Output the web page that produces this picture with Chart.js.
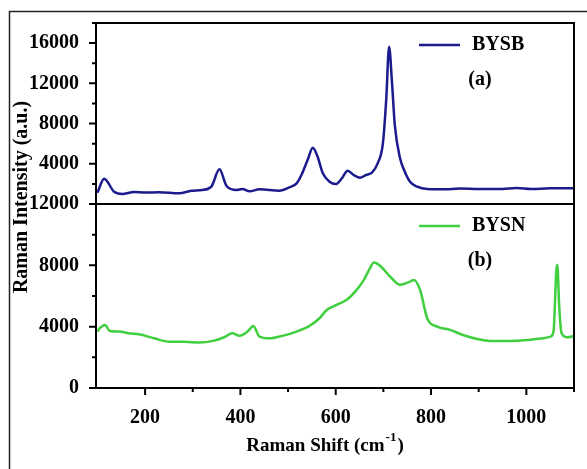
<!DOCTYPE html>
<html>
<head>
<meta charset="utf-8">
<script src="https://cdn.jsdelivr.net/npm/chart.js@4.4.1/dist/chart.umd.min.js"></script>
<style>
  html, body { margin: 0; padding: 0; background: #fff; }
  #wrap { width: 587px; height: 469px; }
</style>
</head>
<body>
<div id="wrap"><canvas id="raman" width="587" height="469"></canvas></div>
<script>
// BYSB spectrum (top panel)
const bysbShift = [100, 114, 135, 152, 177, 200, 229, 272, 297, 320, 339, 356, 371, 392, 404, 419,
  440, 482, 503, 518, 528, 541, 552, 562, 573, 587, 600, 613, 625, 638, 651, 663, 676, 688, 699,
  706, 712, 718, 724, 735, 745, 756, 771, 792, 830, 860, 900, 950, 980, 1010, 1050, 1100];
const bysbIntensity = [1120, 2520, 1220, 1000, 1190, 1140, 1160, 1060, 1320, 1390, 1720, 3450, 1790, 1390, 1490, 1260,
  1460, 1320, 1660, 2050, 2880, 4380, 5600, 4700, 3050, 2210, 1980, 2560, 3310, 2880, 2610, 2880, 3110, 4040, 6030,
  10400, 15640, 12150, 7850, 4540, 3210, 2210, 1720, 1490, 1460, 1540, 1480, 1500, 1580, 1480, 1560, 1560];

// BYSN spectrum (bottom panel)
const bysnShift = [100, 105, 116, 126, 145, 166, 187, 219, 251, 282, 314, 345, 366, 383, 398, 415, 427,
  440, 461, 488, 518, 545, 566, 581, 602, 623, 644, 659, 672, 680, 693, 714, 735, 756, 764, 777,
  792, 813, 840, 867, 897, 924, 966, 1002, 1036, 1051, 1057, 1063, 1065, 1069, 1074, 1086, 1100];
const bysnIntensity = [3680, 3900, 4110, 3720, 3680, 3570, 3500, 3240, 3020, 3020, 2960, 3090, 3310, 3570, 3400, 3680, 4050,
  3350, 3240, 3400, 3680, 4050, 4550, 5090, 5420, 5750, 6400, 7050, 7820, 8180, 7970, 7270, 6730, 6940, 7050, 6400,
  4550, 4000, 3790, 3460, 3200, 3070, 3070, 3130, 3240, 3350, 3680, 7700, 8030, 5310, 3570, 3310, 3400];

const seriesLabels = ['BYSB', 'BYSN'];
const panelTags = ['(a)', '(b)'];

// axis ticks
const xTicks = [200, 300, 400, 500, 600, 700, 800, 900, 1000, 1100];
const xTickLabels = [200, 400, 600, 800, 1000];
const yTopTicks = [0, 2000, 4000, 6000, 8000, 10000, 12000, 14000, 16000, 18000];
const yTopTickLabels = [4000, 8000, 12000, 16000];
const yBottomTicks = [0, 2000, 4000, 6000, 8000, 10000, 12000];
const yBottomTickLabels = [0, 4000, 8000, 12000];

const SERIF = '"Liberation Serif", "Times New Roman", serif';

const toPoints = (xs, ys) => xs.map((x, i) => ({ x: x, y: ys[i] }));

function setTicks(values) {
  return function (scale) { scale.ticks = values.map(v => ({ value: v })); };
}

const framePlugin = {
  id: 'frame',
  beforeDraw(chart) {
    const ctx = chart.ctx;
    ctx.save();
    ctx.fillStyle = '#fff';
    ctx.fillRect(0, 0, chart.width, chart.height);
    ctx.restore();
  },
  afterDraw(chart) {
    const ctx = chart.ctx;
    const a = chart.chartArea;
    const s = chart.scales;
    ctx.save();

    // outer picture border
    ctx.strokeStyle = '#222';
    ctx.lineWidth = 1.5;
    ctx.beginPath();
    ctx.moveTo(9.5, chart.height);
    ctx.lineTo(9.5, 11.5);
    ctx.lineTo(chart.width, 11.5);
    ctx.stroke();

    // plot frame and divider
    ctx.strokeStyle = '#000';
    ctx.lineWidth = 2;
    ctx.strokeRect(a.left, a.top, a.right - a.left, a.bottom - a.top);
    ctx.beginPath();
    ctx.moveTo(a.left, s.yTop.bottom);
    ctx.lineTo(a.right, s.yTop.bottom);
    ctx.stroke();

    // tick marks
    ctx.lineWidth = 2;
    ctx.beginPath();
    xTicks.forEach(v => {
      const px = s.x.getPixelForValue(v);
      const len = xTickLabels.includes(v) ? 7 : 4;
      ctx.moveTo(px, a.bottom);
      ctx.lineTo(px, a.bottom + len);
    });
    [[s.yTop, yTopTickLabels], [s.yBottom, yBottomTickLabels]].forEach(([sc, labels]) => {
      sc.ticks.forEach(t => {
        const py = sc.getPixelForValue(t.value);
        const len = labels.includes(t.value) ? 7 : 4;
        ctx.moveTo(a.left, py);
        ctx.lineTo(a.left - len, py);
      });
    });
    ctx.stroke();

    // legends and panel tags
    ctx.font = 'bold 20px ' + SERIF;
    ctx.fillStyle = '#000';
    ctx.textBaseline = 'middle';
    [s.yTop, s.yBottom].forEach((sc, i) => {
      const ds = chart.data.datasets[i];
      const ly = sc.top + 22;
      ctx.strokeStyle = ds.borderColor;
      ctx.lineWidth = 2.5;
      ctx.beginPath();
      ctx.moveTo(a.right - 155, ly);
      ctx.lineTo(a.right - 114, ly);
      ctx.stroke();
      ctx.textAlign = 'left';
      ctx.fillText(seriesLabels[i], a.right - 102, ly);
      ctx.textAlign = 'center';
      ctx.fillText(panelTags[i], a.right - 94, sc.top + 57);
    });

    // axis titles
    ctx.fillStyle = '#000';
    ctx.save();
    ctx.translate(22, 197);
    ctx.rotate(-Math.PI / 2);
    ctx.textAlign = 'center';
    ctx.font = 'bold 20px ' + SERIF;
    ctx.fillText('Raman Intensity (a.u.)', 0, 0);
    ctx.restore();

    const main = 'Raman Shift (cm';
    const sup = '-1';
    const tail = ')';
    ctx.font = 'bold 19px ' + SERIF;
    const wMain = ctx.measureText(main).width;
    const wTail = ctx.measureText(tail).width;
    ctx.font = 'bold 13px ' + SERIF;
    const wSup = ctx.measureText(sup).width;
    const cx = (a.left + a.right) / 2 - 11;
    let x0 = cx - (wMain + wSup + wTail) / 2;
    const ty = 446;
    ctx.textAlign = 'left';
    ctx.textBaseline = 'middle';
    ctx.font = 'bold 19px ' + SERIF;
    ctx.fillText(main, x0, ty);
    ctx.font = 'bold 13px ' + SERIF;
    ctx.fillText(sup, x0 + wMain + 1, ty - 8);
    ctx.font = 'bold 19px ' + SERIF;
    ctx.fillText(tail, x0 + wMain + wSup + 2, ty);
    ctx.restore();
  }
};

const tickFont = { family: SERIF, size: 20, weight: 'bold' };

new Chart(document.getElementById('raman'), {
  type: 'line',
  data: {
    datasets: [
      {
        label: seriesLabels[0],
        data: toPoints(bysbShift, bysbIntensity),
        yAxisID: 'yTop',
        borderColor: '#1b1b8e',
        borderWidth: 2.5,
        pointRadius: 0,
        cubicInterpolationMode: 'monotone'
      },
      {
        label: seriesLabels[1],
        data: toPoints(bysnShift, bysnIntensity),
        yAxisID: 'yBottom',
        borderColor: '#3fcf3f',
        borderWidth: 2.5,
        pointRadius: 0,
        cubicInterpolationMode: 'monotone'
      }
    ]
  },
  options: {
    responsive: false,
    animation: false,
    devicePixelRatio: 1,
    layout: { padding: { top: 23, right: 13, left: 0, bottom: 0 } },
    plugins: { legend: { display: false }, tooltip: { enabled: false } },
    scales: {
      x: {
        type: 'linear',
        min: 97,
        max: 1100,
        afterBuildTicks: setTicks(xTicks),
        afterFit(scale) { scale.height = 81; },
        grid: { display: false },
        border: { display: false },
        ticks: {
          autoSkip: false,
          maxRotation: 0,
          padding: 10,
          color: '#000',
          font: tickFont,
          callback: v => xTickLabels.includes(v) ? String(v) : ''
        }
      },
      yBottom: {
        type: 'linear',
        position: 'left',
        stack: 'panels',
        stackWeight: 184,
        min: 0,
        max: 12000,
        afterBuildTicks: setTicks(yBottomTicks),
        afterFit(scale) { scale.width = 96; },
        grid: { display: false },
        border: { display: false },
        ticks: {
          autoSkip: false,
          padding: 9,
          color: '#000',
          font: tickFont,
          callback: v => yBottomTickLabels.includes(v) ? String(v) : ''
        }
      },
      yTop: {
        type: 'linear',
        position: 'left',
        stack: 'panels',
        stackWeight: 181,
        min: 0,
        max: 18000,
        afterBuildTicks: setTicks(yTopTicks),
        afterFit(scale) { scale.width = 96; },
        grid: { display: false },
        border: { display: false },
        ticks: {
          autoSkip: false,
          padding: 9,
          color: '#000',
          font: tickFont,
          callback: v => yTopTickLabels.includes(v) ? String(v) : ''
        }
      }
    }
  },
  plugins: [framePlugin]
});
</script>
</body>
</html>
